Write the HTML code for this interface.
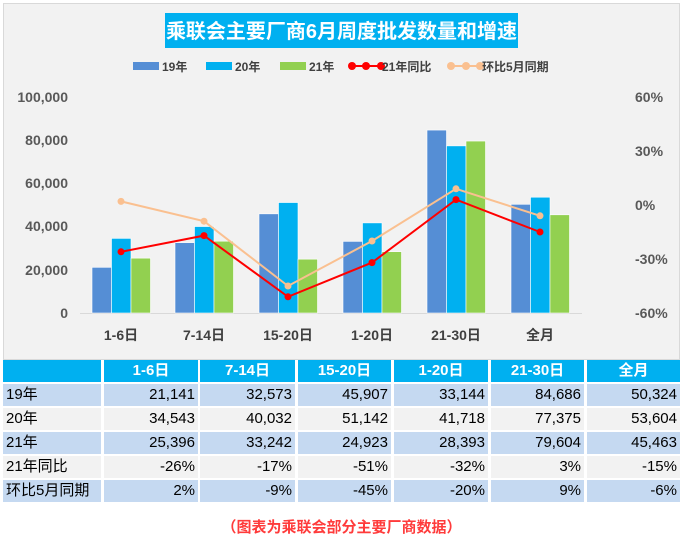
<!DOCTYPE html>
<html><head><meta charset="utf-8"><style>
body{margin:0;width:683px;height:550px;background:#fff;position:relative;overflow:hidden;font-family:"Liberation Sans","Noto Sans CJK SC",sans-serif;}
.c{position:absolute;height:22px;line-height:22px;font-size:15px;color:#000;box-sizing:border-box;padding:0 3px;text-align:right;}
.h{background:#00b0f0;color:#fff;font-weight:bold;text-align:center;}
.b{background:#c5d9f1}.g{background:#f2f2f2}
.l{text-align:left}
</style></head><body>
<svg width="683" height="360" style="position:absolute;left:0;top:0" font-family="Liberation Sans, Noto Sans CJK SC, sans-serif">
<rect x="3.5" y="3.5" width="676" height="356" fill="#f2f2f2" stroke="#d9d9d9"/>
<rect x="165" y="13" width="353" height="35" fill="#00b0f0"/>
<text x="341.5" y="38" font-size="20" font-weight="bold" fill="#fff" text-anchor="middle">乘联会主要厂商6月周度批发数量和增速</text>
<g font-size="12" font-weight="bold" fill="#404040">
<rect x="133" y="62" width="26" height="8" fill="#558ed5"/><text x="162" y="71">19年</text>
<rect x="206" y="62" width="26" height="8" fill="#00b0f0"/><text x="235" y="71">20年</text>
<rect x="280" y="62" width="26" height="8" fill="#92d050"/><text x="309" y="71">21年</text>
<line x1="352" y1="66" x2="381" y2="66" stroke="#f00" stroke-width="2"/><circle cx="352" cy="66" r="4" fill="#f00"/><circle cx="366" cy="66" r="4" fill="#f00"/><circle cx="381" cy="66" r="4" fill="#f00"/><text x="382" y="71">21年同比</text>
<line x1="451" y1="66" x2="480" y2="66" stroke="#fac090" stroke-width="2"/><circle cx="451" cy="66" r="4" fill="#fac090"/><circle cx="466" cy="66" r="4" fill="#fac090"/><circle cx="480" cy="66" r="4" fill="#fac090"/><text x="482" y="71">环比5月同期</text>
</g>
<g font-size="14" font-weight="bold" fill="#595959">
<text x="68" y="102" text-anchor="end">100,000</text>
<text x="68" y="145" text-anchor="end">80,000</text>
<text x="68" y="188" text-anchor="end">60,000</text>
<text x="68" y="231" text-anchor="end">40,000</text>
<text x="68" y="275" text-anchor="end">20,000</text>
<text x="68" y="318" text-anchor="end">0</text>
<text x="635" y="102">60%</text>
<text x="635" y="156">30%</text>
<text x="635" y="210">0%</text>
<text x="635" y="264">-30%</text>
<text x="635" y="318">-60%</text>
</g>
<line x1="80" y1="313.5" x2="582" y2="313.5" stroke="#d9d9d9"/>
<g id="bars"></g>
<g font-size="14" font-weight="bold" fill="#404040" text-anchor="middle">
<text x="121" y="340">1-6日</text><text x="204" y="340">7-14日</text><text x="288" y="340">15-20日</text><text x="372" y="340">1-20日</text><text x="456" y="340">21-30日</text><text x="540" y="340">全月</text>
</g>
<polyline id="p1" fill="none" stroke="#fac090" stroke-width="2"/>
<polyline id="p2" fill="none" stroke="#f00" stroke-width="2"/>
<g id="dots"></g>
</svg>
<script>
var cx=[121,204,288,372,456,540];
var d=[[21141,32573,45907,33144,84686,50324],[34543,40032,51142,41718,77375,53604],[25396,33242,24923,28393,79604,45463]];
var col=["#558ed5","#00b0f0","#92d050"];
var s="";
for(var i=0;i<6;i++)for(var j=0;j<3;j++){var h=d[j][i]*216/100000;s+='<rect x="'+(cx[i]-29+j*19.5)+'" y="'+(313-h)+'" width="19.5" height="'+h+'" fill="'+col[j]+'" stroke="#fff" stroke-width="0.6"/>';}
document.getElementById("bars").innerHTML=s;
var r=[-26,-17,-51,-32,3,-15],p=[2,-9,-45,-20,9,-6];
var a="",b="",dd="";
for(var i=0;i<6;i++){var yr=205-r[i]*1.8,yp=205-p[i]*1.8;a+=cx[i]+","+yp+" ";b+=cx[i]+","+yr+" ";dd+='<circle cx="'+cx[i]+'" cy="'+yp+'" r="3.5" fill="#fac090"/><circle cx="'+cx[i]+'" cy="'+yr+'" r="3.5" fill="#f00"/>';}
document.getElementById("p1").setAttribute("points",a);
document.getElementById("p2").setAttribute("points",b);
document.getElementById("dots").innerHTML=dd;
var cols=[[3,101],[104,198],[200,295],[298,391],[394,488],[491,584],[587,680]];
var rows=[["","1-6日","7-14日","15-20日","1-20日","21-30日","全月"],
["19年","21,141","32,573","45,907","33,144","84,686","50,324"],
["20年","34,543","40,032","51,142","41,718","77,375","53,604"],
["21年","25,396","33,242","24,923","28,393","79,604","45,463"],
["21年同比","-26%","-17%","-51%","-32%","3%","-15%"],
["环比5月同期","2%","-9%","-45%","-20%","9%","-6%"]];
var cls=["h","b","g","b","g","b"];
var t="";
for(var r2=0;r2<6;r2++)for(var c=0;c<7;c++){t+='<div class="c '+cls[r2]+(c==0&&r2>0?' l':'')+'" style="left:'+cols[c][0]+'px;width:'+(cols[c][1]-cols[c][0])+'px;top:'+(360+r2*24)+'px">'+rows[r2][c]+'</div>';}
document.body.insertAdjacentHTML("beforeend",t);
</script>
<div style="position:absolute;left:0;width:683px;top:516px;text-align:center;color:#ff3b3b;font-weight:bold;font-size:15px">（图表为乘联会部分主要厂商数据）</div>
</body></html>
